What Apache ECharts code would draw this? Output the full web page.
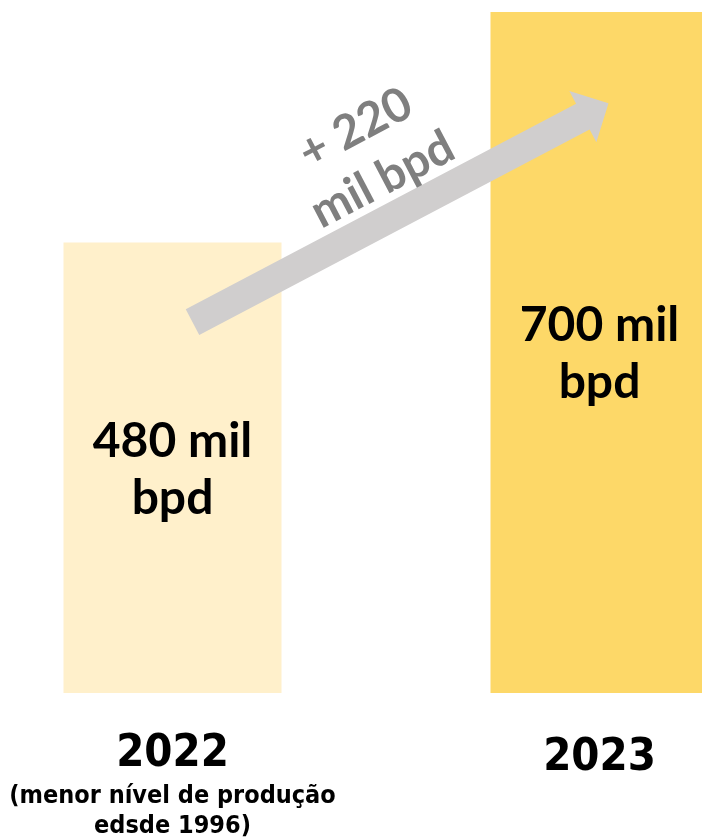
<!DOCTYPE html>
<html>
<head>
<meta charset="utf-8">
<script src="https://cdn.jsdelivr.net/npm/echarts@6/dist/echarts.min.js"></script>
<style>
  html, body { margin: 0; padding: 0; background: #ffffff; }
  #chart { width: 702px; height: 837px; }
</style>
</head>
<body>
<div id="chart"></div>
<script>
// Oil production, thousand barrels per day
const years = ['2022', '2023'];
const yearNotes = ['(menor nível de produção\nedsde 1996)', ''];
const production = [480, 700];
const barColors = ['#FFF0CB', '#FDD868'];
const changeText = '+ 220\nmil bpd';

const chart = echarts.init(document.getElementById('chart'), null, { renderer: 'canvas' });

const option = {
  animation: false,
  backgroundColor: '#ffffff',
  grid: { left: -41, width: 854, top: 12, bottom: 144, outerBoundsMode: 'none', containLabel: false },
  xAxis: {
    type: 'category',
    data: years,
    axisLine: { show: false },
    axisTick: { show: false },
    axisLabel: {
      margin: 34,
      interval: 0,
      formatter: function (val, idx) {
        const note = yearNotes[idx];
        if (note) {
          return '{year|' + val + '}\n' + note.split('\n').map(function (l) { return '{note|' + l + '}'; }).join('\n');
        }
        return '{yearLow|' + val + '}';
      },
      rich: {
        year: {
          fontFamily: 'DejaVu Sans Condensed', fontWeight: 'bold', fontSize: 45,
          color: '#000000', lineHeight: 54
        },
        yearLow: {
          fontFamily: 'DejaVu Sans Condensed', fontWeight: 'bold', fontSize: 45,
          color: '#000000', lineHeight: 50, padding: [12, 0, 0, 0]
        },
        note: {
          fontFamily: 'DejaVu Sans Condensed', fontWeight: 'bold', fontSize: 25,
          color: '#000000', lineHeight: 30
        }
      }
    }
  },
  yAxis: {
    type: 'value',
    min: 50,
    max: 700,
    show: false,
    splitLine: { show: false }
  },
  series: [{
    type: 'bar',
    barWidth: 218,
    data: production.map(function (v, i) {
      return { value: v, itemStyle: { color: barColors[i] } };
    }),
    label: {
      show: true,
      position: 'inside',
      offset: [0, 2],
      formatter: function (p) { return p.value + ' mil\nbpd'; },
      fontFamily: 'Lato',
      fontWeight: 'bold',
      fontSize: 48,
      lineHeight: 57,
      color: '#000000'
    }
  }]
};

chart.setOption(option);

// Growth arrow between the two bars, placed from the axis scales
function arrowPolygon(tail, tip, halfBody, headLen, halfHead) {
  const dx = tip[0] - tail[0], dy = tip[1] - tail[1];
  const len = Math.sqrt(dx * dx + dy * dy);
  const ux = dx / len, uy = dy / len;
  const nx = -uy, ny = ux;
  const bx = tip[0] - ux * headLen, by = tip[1] - uy * headLen;
  return [
    [tail[0] + nx * halfBody, tail[1] + ny * halfBody],
    [bx + nx * halfBody, by + ny * halfBody],
    [bx + nx * halfHead, by + ny * halfHead],
    [tip[0], tip[1]],
    [bx - nx * halfHead, by - ny * halfHead],
    [bx - nx * halfBody, by - ny * halfBody],
    [tail[0] - nx * halfBody, tail[1] - ny * halfBody]
  ];
}

const tailPt = chart.convertToPixel({ gridIndex: 0 }, [0, 404]);
const tipPt = chart.convertToPixel({ gridIndex: 0 }, [1, 613]);
const tail = [tailPt[0] + 20, tailPt[1]];
const tip = [tipPt[0] + 9, tipPt[1]];
const ang = Math.atan2(-(tip[1] - tail[1]), tip[0] - tail[0]);

chart.setOption({
  graphic: [
    {
      type: 'polygon',
      shape: { points: arrowPolygon(tail, tip, 14.5, 29, 29) },
      style: { fill: '#D0CECE' },
      z: 10
    },
    {
      type: 'text',
      x: 369,
      y: 154,
      rotation: ang,
      style: {
        text: changeText,
        fontFamily: 'Lato',
        fontWeight: 'bold',
        fontSize: 47,
        lineHeight: 58,
        fill: '#7F7F7F',
        align: 'center',
        verticalAlign: 'middle'
      },
      z: 11
    }
  ]
});
</script>
</body>
</html>
